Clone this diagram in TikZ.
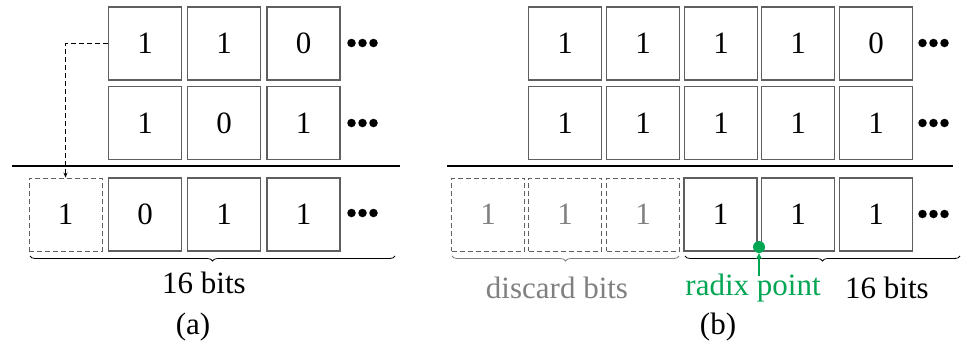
\documentclass[tikz,border=0pt]{standalone}
\usepackage{fontspec}
\setmainfont{Liberation Serif}
\usetikzlibrary{decorations.pathreplacing,arrows.meta}
\definecolor{boxgray}{RGB}{95,95,95}
\definecolor{txtgray}{RGB}{128,128,128}
\definecolor{radgreen}{RGB}{0,166,81}
\begin{document}
\begin{tikzpicture}[x=1pt,y=-1pt,
  cell/.style={draw=boxgray,line width=1.1pt,minimum width=73pt,minimum height=73pt,inner sep=0pt,font=\fontsize{31}{32}\selectfont},
  dsh/.style={dash pattern=on 5pt off 3pt},
  dcell/.style={cell,dsh,line width=0.9pt,text=txtgray},
  lbl/.style={font=\fontsize{31}{32}\selectfont,inner sep=0pt},
  dotc/.style={fill=black,circle,inner sep=0pt,minimum size=8.5pt},
  brc/.style={decorate,decoration={brace,mirror,amplitude=5pt},line width=0.8pt}]
\useasboundingbox (0,0) rectangle (973,351);
% ---------- (a)
\node[cell] (a11) at (145,43.5) {1};
\node[cell] (a12) at (224,43.5) {1};
\node[cell] (a13) at (303.5,43.5) {0};
\node[cell] (a21) at (145,123) {1};
\node[cell] (a22) at (224,123) {0};
\node[cell] (a23) at (303.5,123) {1};
\node[cell,dsh,line width=0.9pt] (ad) at (65.5,214.5) {1};
\node[cell] (a31) at (145,214.5) {0};
\node[cell] (a32) at (224,214.5) {1};
\node[cell] (a33) at (303.5,214.5) {1};
\foreach \y/\n in {43/1,123/2,213/3}{
  \node[dotc] (adA\n) at (351.5,\y) {};
  \node[dotc] (adB\n) at (362.5,\y) {};
  \node[dotc] (adC\n) at (373.5,\y) {};
}
\coordinate (alineL) at (12,166);
\coordinate (alineR) at (400,166);
\draw[line width=2.2pt] (alineL) -- (alineR);
\draw[dsh,line width=0.8pt,-{Stealth[length=5pt,width=4pt]}] (a11.west) -| (ad.north);
\coordinate (abL) at (30,256);
\coordinate (abR) at (395,256);
\draw[brc] (abL) -- (abR);
\node[lbl] (a16) at (204,283) {16 bits};
\node[lbl] (acap) at (193,327) {(a)};
% ---------- (b)
\node[cell] (b11) at (565,43.5) {1};
\node[cell] (b12) at (643,43.5) {1};
\node[cell] (b13) at (721,43.5) {1};
\node[cell] (b14) at (798,43.5) {1};
\node[cell] (b15) at (876,43.5) {0};
\foreach \x [count=\i] in {565,643,721,798,876}{
  \node[cell] (b2\i) at (\x,123) {1};
}
\node[dcell] (bd1) at (488,214.5) {1};
\node[dcell] (bd2) at (565,214.5) {1};
\node[dcell] (bd3) at (643,214.5) {1};
\node[cell] (b31) at (720.5,214.5) {1};
\node[cell] (b32) at (798,214.5) {1};
\node[cell] (b33) at (876,214.5) {1};
\foreach \y/\n in {43/1,123/2,214/3}{
  \node[dotc] (bdA\n) at (922.5,\y) {};
  \node[dotc] (bdB\n) at (933.5,\y) {};
  \node[dotc] (bdC\n) at (944.5,\y) {};
}
\coordinate (blineL) at (447,166);
\coordinate (blineR) at (953,166);
\draw[line width=2.2pt] (blineL) -- (blineR);
\coordinate (bbL) at (452,256);
\coordinate (bbM) at (679,256);
\coordinate (bbN) at (685,256);
\coordinate (bbR) at (960,256);
\draw[brc,draw=txtgray] (bbL) -- (bbM);
\draw[brc] (bbN) -- (bbR);
\node[fill=radgreen,circle,inner sep=0pt,minimum size=12pt] (rdot) at (759,247) {};
\coordinate (rarr) at (759,276);
\draw[radgreen,line width=1.2pt,-{Stealth[length=6pt,width=6pt]}] (rarr) -- (rdot);
\node[lbl,text=txtgray] (bdis) at (557,288) {discard bits};
\node[lbl,text=radgreen] (brad) at (753,288) {radix point};
\node[lbl] (b16) at (887,288) {16 bits};
\node[lbl] (bcap) at (718,327) {(b)};
\end{tikzpicture}
\end{document}
